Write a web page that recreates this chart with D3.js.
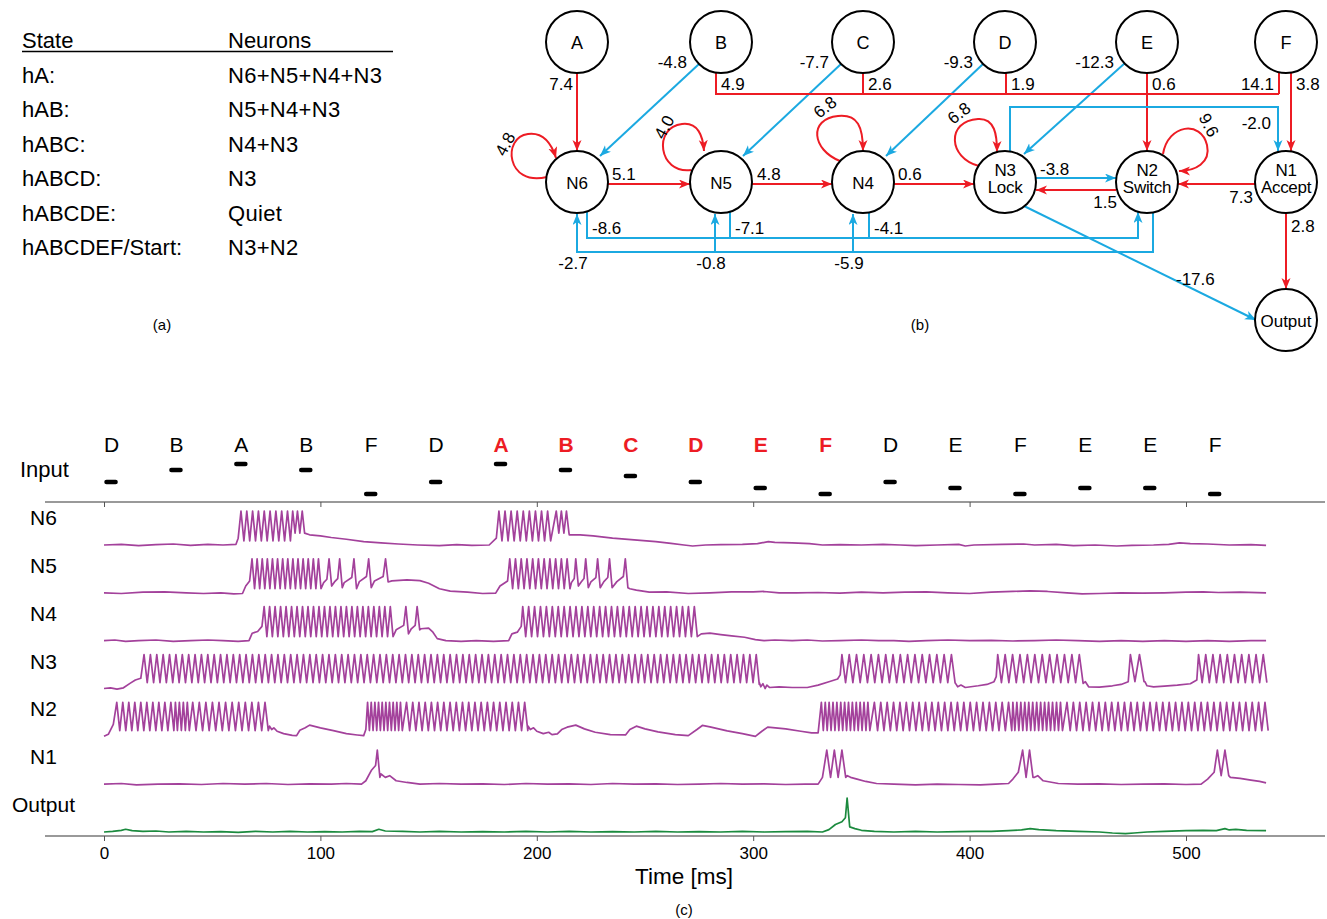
<!DOCTYPE html>
<html><head><meta charset="utf-8">
<script src="https://cdn.jsdelivr.net/npm/d3@7"></script>
<style>
html,body{margin:0;padding:0;background:#fff;}
svg{display:block;font-family:"Liberation Sans",Arial,Helvetica,sans-serif;}
</style></head>
<body><svg id="fig" width="1327" height="919"></svg>
<script>
// ---------------- DATA ----------------
// (a) table
const tableStates = ["hA:", "hAB:", "hABC:", "hABCD:", "hABCDE:", "hABCDEF/Start:"];
const tableNeurons = ["N6+N5+N4+N3", "N5+N4+N3", "N4+N3", "N3", "Quiet", "N3+N2"];

// (b) network
const nodeIds = ["A","B","C","D","E","F","N6","N5","N4","N3","N2","N1","Output"];
const nodeLabels = [["A"],["B"],["C"],["D"],["E"],["F"],["N6"],["N5"],["N4"],["N3","Lock"],["N2","Switch"],["N1","Accept"],["Output"]];
const edgeIds = ["A-N6","B-N6","C-N5","D-N4","E-N3","E-N2","B-bus","C-bus","D-bus","F-bus","F-N1","N3-N1",
  "N6-N5","N5-N4","N4-N3","N3-N2","N2-N3","N1-N2","N1-Out","N3-Out",
  "N6-N2","N5-N2","N4-N2","N2-N6","N2-N5","N2-N4",
  "N6-N6","N5-N5","N4-N4","N3-N3","N2-N2"];
const edgeWeights = [7.4,-4.8,-7.7,-9.3,-12.3,0.6,4.9,2.6,1.9,14.1,3.8,-2.0,
  5.1,4.8,0.6,-3.8,1.5,7.3,2.8,-17.6,
  -8.6,-7.1,-4.1,-2.7,-0.8,-5.9,
  4.8,4.0,6.8,6.8,9.6];

// (c) input sequence
const inputLetters = ["D","B","A","B","F","D","A","B","C","D","E","F","D","E","F","E","E","F"];
const inputHighlight = [0,0,0,0,0,0,1,1,1,1,1,1,0,0,0,0,0,0];
const inputPeriod = 30, inputDuration = 6.5;
const timeTicks = [0,100,200,300,400,500];
const traceNames = ["N6","N5","N4","N3","N2","N1","Output"];

// membrane traces: waypoints [t(ms), v] (v: 0 rest, 1 spike peak) and bursts [tFirst, tLast, count, trough]
const n6Wave = [[0,0],[8,0.02],[16,-0.02],[24,0.01],[32,0.03],[40,-0.01],[48,0.02],[55,0.0],[61,0.02],[62,0.2],
 [95,0.3],[100,0.27],[105,0.22],[112,0.17],[120,0.1],[128,0.06],[136,0.03],[145,0.0],[155,-0.02],[163,0.01],[170,-0.01],[178,0.0],[181.3,0.2],
 [215,0.3],[220,0.3],[226,0.27],[235,0.2],[245,0.15],[255,0.1],[262,0.05],[268,0.0],[272,-0.03],[278,0.0],[285,0.01],[295,0.02],[302,0.04],[307,0.1],[310,0.08],[318,0.06],[326,0.04],[332,0.0],[340,0.01],[350,0.0],[360,0.02],[368,0.0],[375,-0.02],[385,0.0],[395,0.02],[398,-0.03],[402,0.0],[415,0.02],[425,0.03],[430,0.0],[440,0.02],[448,-0.02],[458,0.0],[468,-0.03],[475,-0.01],[485,0.0],[492,0.02],[497,0.06],[502,0.04],[510,0.03],[520,0.0],[530,0.01],[537,-0.01]];
const n6Bursts = [[63.3,84.8,9,0.12],[87.2,91.6,3,0.35],[182.5,205,9,0.12],[209,213.7,3,0.35]];

const n5Wave = [[0,0],[8,-0.02],[18,0.02],[28,0.03],[38,0.0],[46,-0.02],[54,0.0],[60,-0.03],[64,-0.02],[65.5,0.2],[67.3,0.35],
 [101.5,0.3],[103,0.4],[106.5,0.32],[108,0.42],[111,0.3],[114.5,0.45],[118,0.33],[121.3,0.48],[125,0.35],[129,0.48],
 [133,0.35],[140,0.38],[146,0.36],[150,0.28],[155,0.12],[160,0.05],[168,0.02],[175,-0.02],[181,-0.01],[183,0.2],[186.5,0.35],
 [216,0.3],[217.3,0.42],[220.5,0.32],[221.8,0.42],[225,0.32],[227.3,0.45],[231,0.33],[232.8,0.45],[237,0.33],[240,0.48],
 [243,0.12],[246,0.08],[252,0.02],[260,0.03],[270,-0.02],[280,0.0],[290,0.03],[300,0.03],[305,0.04],[312,0.0],[320,0.0],[330,0.01],[340,-0.01],[350,0.02],[360,0.0],[370,0.02],[380,0.03],[390,0.0],[400,-0.02],[410,0.02],[420,0.04],[428,0.06],[436,0.04],[445,0.0],[452,-0.03],[460,-0.02],[470,0.0],[480,-0.01],[490,0.0],[500,0.02],[508,0.03],[515,0.01],[525,0.02],[537,0.0]];
const n5Bursts = [[68.4,99.1,14,0.12],[104,104,1,0.2],[108.9,108.9,1,0.15],[115.5,115.5,1,0.12],[122.3,122.3,1,0.15],[130.1,130.1,1,0.32],
 [187.5,214,11,0.12],[218,218,1,0.2],[222.6,222.6,1,0.15],[228.1,228.1,1,0.15],[233.6,233.6,1,0.15],[240.9,240.9,1,0.15]];

const n4Wave = [[0,0],[5,0.02],[10,-0.02],[16,0.0],[24,0.02],[32,-0.02],[40,0.0],[48,0.02],[55,0.0],[62,-0.02],[67,0.0],[68.5,0.22],[71,0.27],[73,0.42],
 [135,0.32],[138.5,0.45],[142,0.35],[143.8,0.45],
 [146.5,0.35],[150,0.37],[152,0.25],[154,0.06],[158,0.0],[165,-0.02],[172,0.0],[180,-0.02],[187,0.0],[188.5,0.2],[191,0.25],[192.8,0.42],
 [276,0.2],[280,0.22],[285,0.18],[290,0.14],[296,0.1],[301,0.03],[305,0.0],[310,0.02],[318,0.0],[325,0.02],[332,-0.01],[340,0.0],[350,0.02],[358,0.0],[365,0.0],[372,-0.02],[380,0.0],[390,0.02],[400,0.0],[410,0.01],[420,-0.01],[430,0.0],[440,0.02],[450,0.0],[460,-0.02],[470,0.0],[480,-0.02],[490,0.0],[500,-0.02],[510,0.0],[520,-0.02],[530,0.0],[537,0.0]];
const n4Bursts = [[74,132.3,24,0.12],[139.5,139.5,1,0.2],[144.7,144.7,1,0.32],[193.5,272.8,30,0.12]];

const n3Wave = [[0,0],[3,0.02],[6,-0.02],[9,0.02],[12,0.15],[14.5,0.25],[17,0.3],
 [302.8,0.12],[303.5,0.05],[304.5,0.14],[305.5,0.0],[306.3,0.1],[307.5,0.03],[312,0.05],[318,0.03],[325,0.03],[330,0.1],[335,0.2],[339,0.28],[340.2,0.4],
 [393.5,0.15],[394.5,0.05],[396,0.1],[398,0.03],[404,0.08],[408,0.12],[411.3,0.2],[412.3,0.35],
 [452.5,0.15],[453.5,0.2],[455,0.05],[460,0.04],[466,0.08],[470,0.12],[473.3,0.2],
 [481,0.2],[482,0.08],[485,0.05],[490,0.07],[496,0.1],[502,0.14],[505,0.25]];
const n3Bursts = [[18.5,301.4,97,0.17],[341,391.6,16,0.17],[413,450.7,12,0.17],[474.3,478.5,2,0.2],[505.8,535.7,10,0.17]];

const n2Wave = [[0,0],[2,0.06],[4.3,0.35],
 [76.5,0.3],[77.5,0.2],[78.5,0.25],[80,0.15],[83,0.08],[87,0.03],[89,0.02],[90.5,0.18],[93,0.25],[95,0.33],[100,0.25],[106,0.17],[112,0.08],[117,0.04],[120,0.02],[121,0.2],
 [196,0.3],[197,0.2],[198.5,0.25],[200,0.15],[203,0.08],[205.5,0.12],[207,0.05],[209.5,0.07],[211.5,0.2],[214,0.27],[216,0.3],[218,0.33],[222,0.22],[227,0.12],[234,0.05],[241,0.04],[243,0.2],[246,0.3],[250,0.22],[256,0.13],[264,0.05],[270,0.02],[274,0.2],[276.5,0.32],[280,0.28],[288,0.16],[295,0.08],[301,0.0],[304,0.15],[306.7,0.27],[315,0.22],[322,0.15],[327,0.1],[330,0.1]];
const n2Bursts = [[5.9,30.9,10,0.17],[33,38.5,4,0.17],[41,74.4,12,0.17],[121.8,137,10,0.17],[139.8,194.4,20,0.17],
 [331.5,353,13,0.17],[356,418,22,0.17],[420,442,13,0.17],[445,536.5,32,0.17]];

const n1Wave = [[0,0],[8,0.02],[15,-0.02],[25,0.0],[35,0.01],[45,-0.01],[55,0.02],[65,0.0],[75,0.02],[85,-0.01],[95,0.01],[105,0.0],[112,0.02],[119,0.0],[121,0.1],[123.5,0.4],[125.5,0.55],
 [128,0.3],[130,0.2],[132,0.25],[135,0.1],[140,0.05],[146,0.0],[155,0.02],[165,0.0],[175,0.01],[185,-0.01],[195,0.02],[205,0.0],[215,0.01],[225,-0.01],[235,0.02],[245,0.0],[255,0.01],[265,-0.01],[275,0.0],[285,0.02],[295,0.0],[305,0.01],[315,-0.01],[324,0.0],[330,0.0],[332,0.2],
 [343.5,0.25],[345,0.2],[348,0.15],[352,0.08],[357,0.02],[365,0.0],[375,-0.02],[385,0.0],[395,-0.01],[405,-0.02],[412,0.0],[418,0.02],[420,0.15],[422.5,0.35],
 [430,0.2],[431.5,0.25],[434,0.1],[441,0.02],[450,0.0],[460,0.01],[470,-0.01],[480,0.0],[490,0.01],[500,-0.01],[507,0.0],[510,0.15],[513,0.35],
 [520.5,0.2],[525,0.17],[530,0.12],[534,0.08],[537,0.04]];
const n1Bursts = [[126.3,126.3,1,0.2],[334,341,3,0.2],[424.5,427.7,2,0.2],[514.5,518,2,0.25]];

const outWave = [[0,0],[4,0.02],[8,0.05],[10,0.08],[13,0.04],[18,0.02],[24,0.03],[30,0.0],[38,0.02],[46,0.0],[54,0.01],[62,-0.01],[70,0.02],[78,0.0],[86,0.02],[94,0.0],[102,0.01],[110,0.0],[118,0.02],[124,0.01],[127,0.08],[130,0.03],[138,0.02],[146,0.0],[155,0.02],[165,0.0],[175,0.01],[185,0.0],[195,0.02],[205,0.0],[215,0.02],[225,0.0],[235,0.01],[245,0.0],[255,0.02],[265,0.0],[275,0.01],[285,0.0],[295,0.02],[305,0.0],[315,0.01],[325,0.02],[332,0.0],[335,0.07],[338,0.22],[341,0.3],[342.6,0.42],[343.4,1.0],[344.6,0.15],[347,0.1],[350,0.05],[356,0.02],[365,0.0],[375,0.02],[385,0.0],[395,0.01],[403,0.02],[410,0.02],[418,0.04],[424,0.06],[428,0.1],[432,0.07],[440,0.04],[450,0.02],[460,0.0],[466,-0.03],[472,-0.05],[476,-0.03],[482,0.0],[490,0.02],[500,0.04],[508,0.05],[514,0.04],[518,0.1],[520,0.06],[523,0.08],[528,0.05],[537,0.04]];
const outBursts = [];

// ---------------- DRAWING ----------------
const svg = d3.select("#fig");
svg.append("rect").attr("width",1327).attr("height",919).attr("fill","#fff");
const RED = "#ed1c24", BLUE = "#1ba9e1", PURPLE = "#a3419b", GREEN = "#1b8a3e";

// ---- (a) table ----
const ta = svg.append("g");
ta.append("text").attr("x",22).attr("y",48).attr("font-size",22).text("State");
ta.append("text").attr("x",228).attr("y",48).attr("font-size",22).text("Neurons");
ta.append("line").attr("x1",22).attr("x2",393).attr("y1",51.5).attr("y2",51.5).attr("stroke","#000").attr("stroke-width",1.5);
const rowY = d3.scalePoint().domain(d3.range(tableStates.length)).range([83,255]);
tableStates.forEach((s,i)=>{
  ta.append("text").attr("x",22).attr("y",rowY(i)).attr("font-size",22).text(s);
  ta.append("text").attr("x",228).attr("y",rowY(i)).attr("font-size",22).attr("letter-spacing",0.3).text(tableNeurons[i]);
});
svg.append("text").attr("x",162).attr("y",330).attr("text-anchor","middle").attr("font-size",15).text("(a)");

// ---- (b) network ----
const defs = svg.append("defs");
[["ar",RED],["ab",BLUE]].forEach(([id,c])=>{
  defs.append("marker").attr("id",id).attr("markerUnits","userSpaceOnUse")
    .attr("markerWidth",12).attr("markerHeight",10).attr("refX",11).attr("refY",4.5)
    .attr("orient","auto").append("path").attr("d","M0,0 L11,4.5 L0,9 L3,4.5 Z").attr("fill",c);
});
const nodePos = {A:[577,42],B:[721,42],C:[863,42],D:[1005,42],E:[1147,42],F:[1286,42],
  N6:[577,182],N5:[721,182],N4:[863,182],N3:[1005,182],N2:[1147,182],N1:[1286,182],Output:[1286,320]};
const R = 31;
// geometry: path, arrow?, label [x,y,anchor,rotation]
const edgeGeom = {
 "A-N6":["M577,73 L577,151",1,[573,90,"end",0]],
 "B-N6":["M699,64 L600,156",1,[687,68,"end",0]],
 "C-N5":["M841,64 L743,156",1,[829,68,"end",0]],
 "D-N4":["M983,64 L886,156",1,[973,68,"end",0]],
 "E-N3":["M1125,63 L1024,154",1,[1114,68,"end",0]],
 "E-N2":["M1147,73 L1147,151",1,[1152,90,"start",0]],
 "B-bus":["M716,73 L716,94 L1279,94",0,[721,90,"start",0]],
 "C-bus":["M863,73 L863,94",0,[868,90,"start",0]],
 "D-bus":["M1006,73 L1006,94",0,[1011,90,"start",0]],
 "F-bus":["M1279,72 L1279,94",0,[1274,90,"end",0]],
 "F-N1":["M1291,73 L1291,151",1,[1296,90,"start",0]],
 "N3-N1":["M1010,151 L1010,107 L1278,107 L1278,151",1,[1271,129,"end",0]],
 "N6-N5":["M608,184 L690,184",1,[612,180,"start",0]],
 "N5-N4":["M752,184 L832,184",1,[757,180,"start",0]],
 "N4-N3":["M894,184 L974,184",1,[898,180,"start",0]],
 "N3-N2":["M1036,178 L1116,178",1,[1040,175,"start",0]],
 "N2-N3":["M1116,190 L1036,190",1,[1117,208,"end",0]],
 "N1-N2":["M1255,184 L1178,184",1,[1253,203,"end",0]],
 "N1-Out":["M1286,213 L1286,289",1,[1291,232,"start",0]],
 "N3-Out":["M1024,206 L1256,320",1,[1176,285,"start",0]],
 "N6-N2":["M587,211 L587,238 L1138,238 L1138,212",1,[592,234,"start",0]],
 "N5-N2":["M730,212 L730,238",0,[735,234,"start",0]],
 "N4-N2":["M869,212 L869,238",0,[874,234,"start",0]],
 "N2-N6":["M1153,212 L1153,252 L577,252 L577,214",1,[573,269,"middle",0]],
 "N2-N5":["M715,252 L715,214",1,[711,269,"middle",0]],
 "N2-N4":["M853,252 L853,214",1,[849,269,"middle",0]],
 "N6-N6":["M547,177 C506,187 502,137 528,134 C543,132 551,142 556,158",1,[505,150,"middle",-62]],
 "N5-N5":["M691,170 C658,174 653,127 682,124 C698,122 703,136 704,151",1,[664,133,"middle",-62]],
 "N4-N4":["M840,161 C812,150 808,119 838,116 C858,114 863,127 863,151",1,[825,113,"middle",-38]],
 "N3-N3":["M979,166 C948,158 946,121 978,119 C995,118 997,135 997,152",1,[959,119,"middle",-38]],
 "N2-N2":["M1163,154 C1168,124 1201,120 1207,145 C1211,163 1195,171 1179,171",1,[1209,131,"middle",62]]
};
const net = svg.append("g");
edgeIds.forEach((id,i)=>{
  const w = edgeWeights[i], g = edgeGeom[id];
  const col = w < 0 ? BLUE : RED;
  const p = net.append("path").attr("d",g[0]).attr("fill","none").attr("stroke",col).attr("stroke-width",2);
  if (g[1]) p.attr("marker-end", w<0 ? "url(#ab)" : "url(#ar)");
  const [lx,ly,anc,rot] = g[2];
  net.append("text").attr("x",lx).attr("y",ly).attr("text-anchor",anc).attr("font-size",17)
    .attr("transform", rot ? `rotate(${rot},${lx},${ly-6})` : null)
    .text(w.toFixed(1));
});
nodeIds.forEach((id,i)=>{
  const [cx,cy] = nodePos[id];
  net.append("circle").attr("cx",cx).attr("cy",cy).attr("r",R).attr("fill","#fff").attr("stroke","#000").attr("stroke-width",2);
  const lab = nodeLabels[i];
  if (lab.length===1){
    net.append("text").attr("x",cx).attr("y",cy+6.5).attr("text-anchor","middle").attr("font-size", id.length===1?18:17).text(lab[0]);
  } else {
    net.append("text").attr("x",cx).attr("y",cy-6).attr("text-anchor","middle").attr("font-size",17).attr("letter-spacing",-0.3).text(lab[0]);
    net.append("text").attr("x",cx).attr("y",cy+11).attr("text-anchor","middle").attr("font-size",17).attr("letter-spacing",-0.3).text(lab[1]);
  }
});
svg.append("text").attr("x",920).attr("y",330).attr("text-anchor","middle").attr("font-size",15).text("(b)");

// ---- (c) traces ----
const x = d3.scaleLinear().domain([0,500]).range([104,1186]);
const axisY0 = 502, axisY1 = 836;
const topAxis = svg.append("g").attr("transform",`translate(0,${axisY0})`)
  .call(d3.axisBottom(x).tickValues(timeTicks).tickSize(5).tickFormat(""));
const botAxis = svg.append("g").attr("transform",`translate(0,${axisY1})`)
  .call(d3.axisBottom(x).tickValues(timeTicks).tickSize(5).tickPadding(6).tickFormat(d3.format("d")));
[topAxis,botAxis].forEach(a=>{
  a.select(".domain").remove();
  a.insert("line",":first-child").attr("x1",45).attr("x2",1325).attr("stroke","#777").attr("stroke-width",1.5);
  a.selectAll(".tick line").attr("stroke","#555").attr("stroke-width",1);
  a.selectAll(".tick text").attr("font-size",17).attr("fill","#000").attr("font-family","Liberation Sans, Arial, sans-serif");
});
svg.append("text").attr("x",684).attr("y",884).attr("text-anchor","middle").attr("font-size",22.5).text("Time [ms]");
svg.append("text").attr("x",684).attr("y",915).attr("text-anchor","middle").attr("font-size",15).text("(c)");

// input
svg.append("text").attr("x",20).attr("y",477).attr("font-size",22).text("Input");
const yIn = d3.scalePoint().domain(["A","B","C","D","E","F"]).range([464,494]);
inputLetters.forEach((L,i)=>{
  const t0 = i*inputPeriod;
  svg.append("text").attr("x",x(t0+inputDuration/2)+0.5).attr("y",452).attr("text-anchor","middle")
    .attr("font-size",21).attr("font-weight",inputHighlight[i]?"bold":"normal")
    .attr("fill",inputHighlight[i]?RED:"#000").text(L);
  svg.append("line").attr("x1",x(t0)+2.5).attr("x2",x(t0+inputDuration)-2.5)
    .attr("y1",yIn(L)).attr("y2",yIn(L)).attr("stroke","#000").attr("stroke-width",4.5).attr("stroke-linecap","round");
});

function buildTrace(wave, bursts){
  const pts = wave.map(d=>[d[0],d[1]]);
  bursts.forEach(([t0,t1,n,tr])=>{
    const p = n>1 ? (t1-t0)/(n-1) : 2.4;
    for (let i=0;i<n;i++){ const ts=t0+i*p; pts.push([ts,1]); pts.push([ts+p*0.5,tr]); }
  });
  pts.sort((a,b)=>a[0]-b[0]);
  return pts;
}
const traces = [[n6Wave,n6Bursts],[n5Wave,n5Bursts],[n4Wave,n4Bursts],[n3Wave,n3Bursts],[n2Wave,n2Bursts],[n1Wave,n1Bursts],[outWave,outBursts]];
const rowBase = d3.scaleLinear().domain([0,6]).range([545,832]);
const labelX = [30,30,30,30,30,30,12];
traces.forEach(([w,b],i)=>{
  const base = rowBase(i);
  const y = d3.scaleLinear().domain([0,1]).range([base, base-34]);
  const line = d3.line().x(d=>x(d[0])).y(d=>y(d[1]));
  svg.append("path").attr("d",line(buildTrace(w,b))).attr("fill","none")
    .attr("stroke", i===6?GREEN:PURPLE).attr("stroke-width",1.7).attr("stroke-linejoin","round");
  svg.append("text").attr("x",labelX[i]).attr("y",base-20).attr("font-size",21).text(traceNames[i]);
});
</script></body></html>
